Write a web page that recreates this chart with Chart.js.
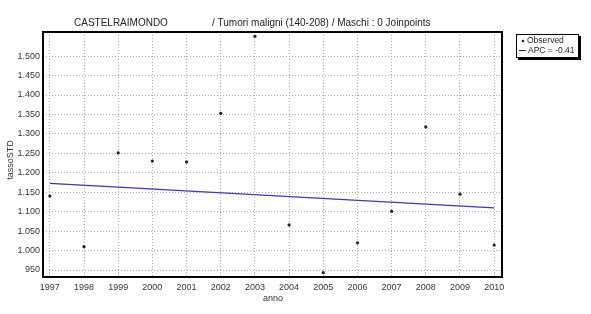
<!DOCTYPE html>
<html lang="it">

<head>
    <meta charset="UTF-8">
    <title>CASTELRAIMONDO</title>
    <script src="https://cdn.jsdelivr.net/npm/chart.js"></script>
    <style>
        body { margin: 0; background: #fff; }
    </style>
</head>

<body>
    <canvas id="myChart" width="591" height="314"></canvas>

    <script>
        // dati
        const anni = [1997, 1998, 1999, 2000, 2001, 2002, 2003, 2004, 2005, 2006, 2007, 2008, 2009, 2010];
        const observed = [1140, 1010, 1251, 1230, 1228, 1353, 1551, 1066, 943, 1020, 1101, 1318, 1145, 1014];
        // linea APC (estremi)
        const trendAnni = [1997, 2010];
        const trendValori = [1173, 1110];
        const yTicks = [950, 1000, 1050, 1100, 1150, 1200, 1250, 1300, 1350, 1400, 1450, 1500];
        const xTicks = anni;

        const titolo1 = 'CASTELRAIMONDO';
        const titolo2 = '/ Tumori maligni (140-208) / Maschi : 0 Joinpoints';
        const legendaLabels = ['Observed', 'APC = -0.41'];

        // 1500 -> "1.500"
        const fmt = (v) => String(v).replace(/\B(?=(\d{3})+(?!\d))/g, '.');

        const FONT = 'Arial, "Liberation Sans", sans-serif';

        const extras = {
            id: 'extras',
            afterDraw(chart) {
                const { ctx, chartArea: a } = chart;
                ctx.save();
                // cornice
                ctx.strokeStyle = '#000';
                ctx.lineWidth = 2;
                ctx.strokeRect(a.left, a.top, a.right - a.left, a.bottom - a.top);

                // titolo
                ctx.fillStyle = '#222';
                ctx.font = '10px ' + FONT;
                ctx.textBaseline = 'middle';
                ctx.textAlign = 'left';
                ctx.fillText(titolo1, 74, 23);
                ctx.fillText(titolo2, 212, 23);

                // titoli assi
                ctx.font = '9px ' + FONT;
                ctx.textAlign = 'center';
                ctx.fillStyle = '#333';
                ctx.fillText('anno', 273, 299);
                ctx.translate(11, 160);
                ctx.rotate(-Math.PI / 2);
                ctx.fillText('tassoSTD', 0, 0);
                ctx.restore();

                // legenda
                ctx.save();
                const lx = 516, ly = 34, lw = 63, lh = 24;
                ctx.fillStyle = '#000';
                ctx.fillRect(lx + 2, ly + 2, lw, lh);
                ctx.fillStyle = '#fff';
                ctx.fillRect(lx, ly, lw, lh);
                ctx.strokeStyle = '#000';
                ctx.lineWidth = 1;
                ctx.strokeRect(lx + 0.5, ly + 0.5, lw - 1, lh - 1);

                ctx.fillStyle = '#222';
                ctx.beginPath();
                ctx.arc(523, 41, 1.3, 0, Math.PI * 2);
                ctx.fill();
                ctx.strokeStyle = '#222';
                ctx.beginPath();
                ctx.moveTo(519, 50.5);
                ctx.lineTo(526, 50.5);
                ctx.stroke();

                ctx.font = '8.5px ' + FONT;
                ctx.textAlign = 'left';
                ctx.textBaseline = 'middle';
                ctx.fillText(legendaLabels[0], 527, 41);
                ctx.fillText(legendaLabels[1], 528, 51);
                ctx.restore();
            }
        };

        const ctx = document.getElementById('myChart');

        new Chart(ctx, {
            type: 'scatter',
            data: {
                datasets: [
                    {
                        label: legendaLabels[1],
                        type: 'line',
                        data: trendAnni.map((x, i) => ({ x: x, y: trendValori[i] })),
                        borderColor: '#3c3c9c',
                        borderWidth: 1.2,
                        pointRadius: 0,
                        fill: false,
                    },
                    {
                        label: legendaLabels[0],
                        data: anni.map((x, i) => ({ x: x, y: observed[i] })),
                        backgroundColor: '#222',
                        borderColor: '#222',
                        pointRadius: 1.6,
                        borderWidth: 0,
                    },
                ]
            },
            options: {
                responsive: false,
                animation: false,
                devicePixelRatio: 1,
                layout: {
                    padding: { top: 32, right: 89, bottom: 0, left: 0 }
                },
                plugins: {
                    legend: { display: false },
                    tooltip: { enabled: false },
                },
                scales: {
                    x: {
                        type: 'linear',
                        min: 1996.8,
                        max: 2010.23,
                        afterBuildTicks: (scale) => { scale.ticks = xTicks.map(v => ({ value: v })); },
                        afterFit: (scale) => { scale.height = 37; },
                        ticks: {
                            autoSkip: false,
                            maxRotation: 0,
                            padding: 5,
                            color: '#333',
                            font: { size: 9, family: FONT },
                            callback: (v) => String(v),
                        },
                        grid: { color: '#aaa', drawTicks: false, lineWidth: 1 },
                        border: { display: false, dash: [1, 2] },
                    },
                    y: {
                        min: 932,
                        max: 1562,
                        afterBuildTicks: (scale) => { scale.ticks = yTicks.map(v => ({ value: v })); },
                        afterFit: (scale) => { scale.width = 43; },
                        ticks: {
                            padding: 3,
                            color: '#333',
                            font: { size: 9, family: FONT },
                            callback: (v) => fmt(v),
                        },
                        grid: { color: '#aaa', drawTicks: false, lineWidth: 1 },
                        border: { display: false, dash: [1, 2] },
                    },
                },
            },
            plugins: [extras],
        });
    </script>
</body>

</html>
